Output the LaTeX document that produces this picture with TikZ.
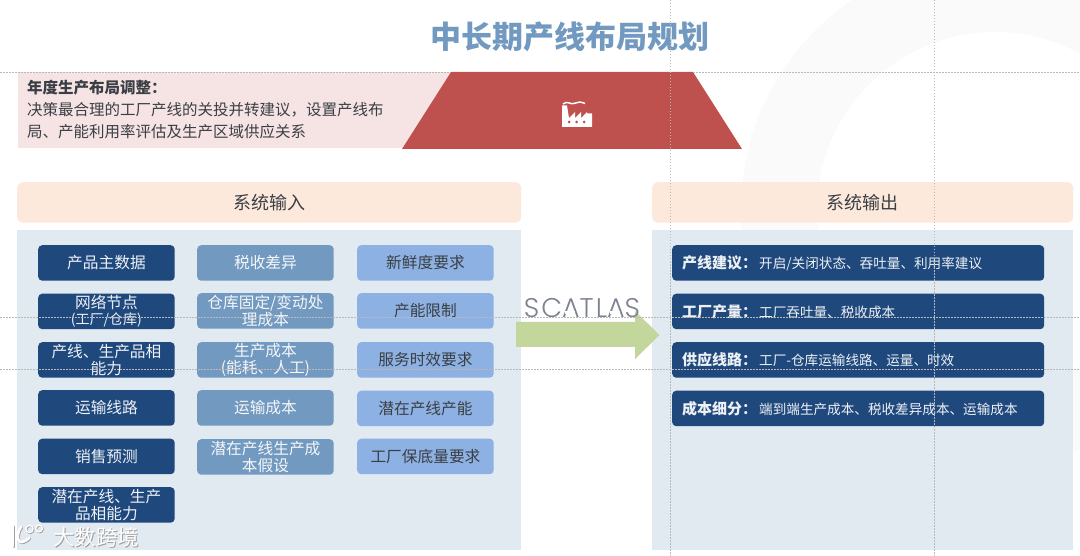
\documentclass[tikz,border=0pt]{standalone}
\usepackage{fontspec}
\setmainfont{Noto Sans CJK SC}
\newfontfamily\logofont[LetterSpace=7.5]{Poppins Light}
\definecolor{navy}{HTML}{1F497D}
\definecolor{steel}{HTML}{7299BF}
\definecolor{sky}{HTML}{8DB1E2}
\definecolor{panel}{HTML}{E1E9F1}
\definecolor{peach}{HTML}{FDE9DB}
\definecolor{pinkbg}{HTML}{F6E4E4}
\definecolor{brick}{HTML}{BE504E}
\definecolor{titleblue}{HTML}{7299BF}
\definecolor{inkdark}{HTML}{3A3F45}
\definecolor{arrowgreen}{HTML}{C3D69B}
\definecolor{ringgray}{HTML}{FAFAFA}
\definecolor{logogray}{HTML}{7D8291}
\tikzset{
 box/.style={rounded corners=4pt,minimum width=136.5pt,minimum height=35.5pt,inner sep=0pt,align=center,font=\fontsize{15.7}{17.6}\selectfont,anchor=north west},
 navybox/.style={box,fill=navy,text=white!92!navy},
 steelbox/.style={box,fill=steel,text=white!92!steel},
 skybox/.style={box,fill=sky,text=inkdark},
 outbox/.style={box,fill=navy,text=white!92!navy,minimum width=372pt,text width=352pt,align=left,font=\fontsize{13.6}{16}\selectfont},
 header/.style={rounded corners=6pt,fill=peach,text=inkdark,minimum height=40.5pt,inner sep=0pt,font=\fontsize{18}{20}\selectfont,anchor=north west},
 guide/.style={gray!55,line width=0.5pt,dash pattern=on 1.5pt off 1.5pt},
 wmfont/.style={font=\fontsize{21.5}{22}\selectfont},
 wmlogo/.pic={
  \draw[line width=2.6pt,line cap=round] (13,526) -- (13,546);
  \draw[line width=2.6pt,line cap=round] (21,527) .. controls (15,535) and (17,549) .. (29,538);
  \draw[line width=1.3pt] (29.5,529) circle (3.6) (39,528.5) circle (3.4);
 },
}
\newcommand{\bl}[1]{{\bfseries\fontsize{15}{16}\selectfont #1}\hspace{2pt}}
\newcommand{\dn}[1]{\raisebox{-1.8pt}{#1}}
\newcommand{\dnr}[1]{\raisebox{-1pt}{#1}}
\newsavebox{\logoA}
\newcommand{\openA}{\sbox{\logoA}{A}\usebox{\logoA}\kern-\wd\logoA\hbox to \wd\logoA{\hss\raisebox{3.6pt}{\textcolor{white}{\rule{0.56\wd\logoA}{2.6pt}}}\hss\kern2pt}}
\begin{document}
\begin{tikzpicture}[x=1pt,y=-1pt]
\useasboundingbox (0,0) rectangle (1080,556);
\fill[white] (0,0) rectangle (1080,556);
% faint ring
\begin{scope}
\clip (0,0) rectangle (1080,556);
\draw[line width=76pt,ringgray] (995,210) circle (216);
\end{scope}
% title
\node[font=\bfseries\fontsize{31}{34}\selectfont,text=titleblue] (title) at (570,37) {中长期产线布局规划};
% adjust band
\fill[pinkbg] (18,72) rectangle (451,148);
\fill[brick] (451,72) -- (693,72) -- (742,149) -- (402,149) -- cycle;
\node[anchor=north west,inner sep=0pt,align=left,text=inkdark,font=\fontsize{15.5}{22}\selectfont] (adj) at (27,80)
 {{\bfseries 年度生产布局调整：}\\决策最合理的工厂产线的关投并转建议，设置产线布\\局、产能利用率评估及生产区域供应关系};
% factory icon
\fill[white] (562,127) -- (562,105.5) -- (567,105.5) -- (569,118) -- (575,112) -- (575,118) -- (581,112) -- (581,118) -- (587,112) -- (587,113.5) -- (592,113.5) -- (592,127) -- cycle;
\draw[white,line width=1.5pt] (563,104) .. controls (567,100.5) and (570,104.5) .. (574,103.5) .. controls (578,102.5) and (580,101) .. (585,103.5);
\foreach \x in {569,576.5,584} \fill[brick] (\x,122) circle (1.5);
% headers
\node[header,minimum width=504pt] (inhead) at (17,182) {系统输入};
\node[header,minimum width=421pt] (outhead) at (652,182) {系统输出};
% panels
\fill[panel] (17,230) rectangle (521,550);
\fill[panel] (652,230) rectangle (1073,550);
% input column 1
\node[navybox] (a1) at (38,245) {\dn{产品主数据}};
\node[navybox] (a2) at (38,293.5) {\dn{网络节点}\\[0pt]{\fontsize{14}{15}\selectfont (工厂/仓库)}};
\node[navybox] (a3) at (38,342) {产线、生产品相\\能力};
\node[navybox] (a4) at (38,390) {\dn{运输线路}};
\node[navybox] (a5) at (38,438.5) {\dn{销售预测}};
\node[navybox] (a6) at (38,487) {潜在产线、生产\\品相能力};
% column 2
\node[steelbox] (b1) at (197,245) {\dn{税收差异}};
\node[steelbox] (b2) at (197,293) {仓库固定/变动处\\理成本};
\node[steelbox] (b3) at (197,342) {生产成本\\(能耗、人工)};
\node[steelbox] (b4) at (197,390) {\dn{运输成本}};
\node[steelbox] (b5) at (197,439) {潜在产线生产成\\本假设};
% column 3
\node[skybox] (c1) at (357,245) {\dn{新鲜度要求}};
\node[skybox] (c2) at (357,293) {\dn{产能限制}};
\node[skybox] (c3) at (357,342) {\dn{服务时效要求}};
\node[skybox] (c4) at (357,390.5) {\dn{潜在产线产能}};
\node[skybox] (c5) at (357,438.5) {\dn{工厂保底量要求}};
% outputs
\node[outbox] (o1) at (672,245) {\dnr{\bl{产线建议：}开启/关闭状态、吞吐量、利用率建议}};
\node[outbox] (o2) at (672,293.5) {\dnr{\bl{工厂产量：}工厂吞吐量、税收成本}};
\node[outbox] (o3) at (672,342) {\dnr{\bl{供应线路：}工厂-仓库运输线路、运量、时效}};
\node[outbox] (o4) at (672,390.5) {\dnr{\bl{成本细分：}端到端生产成本、税收差异成本、运输成本}};
% arrow + logo
\coordinate (arrtail) at (516,335);
\coordinate (arrtip) at (659.5,335);
\fill[arrowgreen] (arrtail) ++(0,-13) -- (635,322) -- (635,311) -- (arrtip) -- (635,359) -- (635,347) -- (516,347) -- cycle;
\node[text=logogray,font=\logofont\fontsize{27}{28}\selectfont] (logo) at (582,308) {SC\openA TL\openA S};
% guides
\draw[guide] (0,72) -- (451,72) (693,72) -- (1080,72);
\draw[guide] (0,317.5) -- (1080,317.5);
\draw[guide] (0,369.5) -- (1080,369.5);
\draw[guide] (670,0) -- (670,556);
\draw[guide] (934,0) -- (934,556);
% watermark
\node[text=gray!75,wmfont] (wms) at (97,538) {大数跨境};
\node[text=white,wmfont] (wm) at (96,537) {大数跨境};
\pic[gray!75,shift={(0.8,0.8)}] {wmlogo};
\pic[white] {wmlogo};
\end{tikzpicture}
\end{document}
